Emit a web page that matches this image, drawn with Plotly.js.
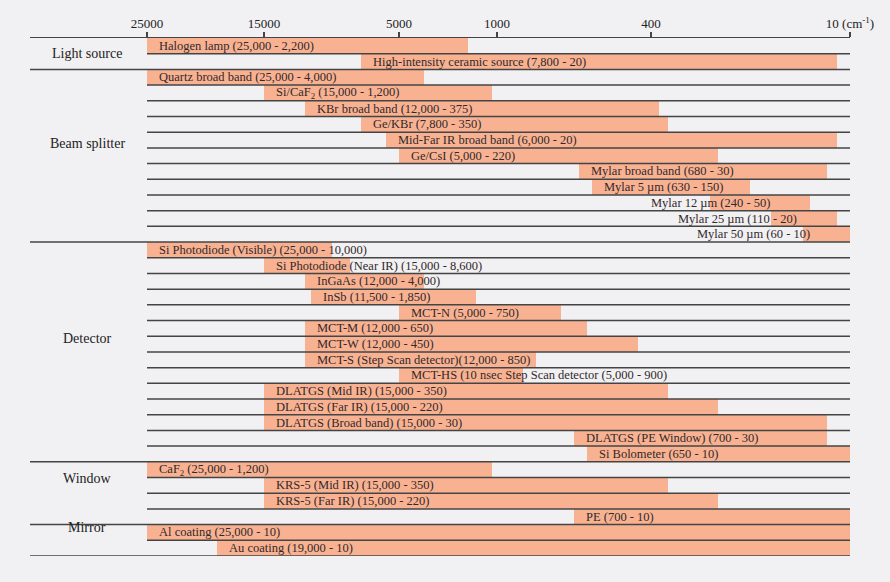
<!DOCTYPE html>
<html>
<head>
<meta charset="utf-8">
<script src="https://cdn.plot.ly/plotly-3.0.1.min.js"></script>
<style>
  html, body { margin: 0; padding: 0; background: #f1f1f3; }
  #chart { width: 890px; height: 582px; }
</style>
</head>
<body>
<div id="chart"></div>
<script>
// ---------------- DATA ----------------
const GROUPS = ['Light source', 'Beam splitter', 'Detector', 'Window', 'Mirror'];
const GROUP_SIZES = [2, 11, 14, 4, 2];

const ITEMS = [
  'Halogen lamp (25,000 - 2,200)',
  'High-intensity ceramic source (7,800 - 20)',
  'Quartz broad band (25,000 - 4,000)',
  'Si/CaF<sub>2</sub> (15,000 - 1,200)',
  'KBr broad band (12,000 - 375)',
  'Ge/KBr (7,800 - 350)',
  'Mid-Far IR broad band (6,000 - 20)',
  'Ge/CsI (5,000 - 220)',
  'Mylar broad band (680 - 30)',
  'Mylar 5 µm (630 - 150)',
  'Mylar 12 µm (240 - 50)',
  'Mylar 25 µm (110 - 20)',
  'Mylar 50 µm (60 - 10)',
  'Si Photodiode (Visible) (25,000 - 10,000)',
  'Si Photodiode (Near IR) (15,000 - 8,600)',
  'InGaAs (12,000 - 4,000)',
  'InSb (11,500 - 1,850)',
  'MCT-N (5,000 - 750)',
  'MCT-M (12,000 - 650)',
  'MCT-W (12,000 - 450)',
  'MCT-S (Step Scan detector)(12,000 - 850)',
  'MCT-HS (10 nsec Step Scan detector (5,000 - 900)',
  'DLATGS (Mid IR) (15,000 - 350)',
  'DLATGS (Far IR) (15,000 - 220)',
  'DLATGS (Broad band) (15,000 - 30)',
  'DLATGS (PE Window) (700 - 30)',
  'Si Bolometer (650 - 10)',
  'CaF<sub>2</sub> (25,000 - 1,200)',
  'KRS-5 (Mid IR) (15,000 - 350)',
  'KRS-5 (Far IR) (15,000 - 220)',
  'PE (700 - 10)',
  'Al coating (25,000 - 10)',
  'Au coating (19,000 - 10)'
];

const RANGE_HIGH = [25000, 7800, 25000, 15000, 12000, 7800, 6000, 5000, 680, 630, 240, 110, 60,
  25000, 15000, 12000, 11500, 5000, 12000, 12000, 12000, 5000, 15000, 15000, 15000, 700, 650,
  25000, 15000, 15000, 700, 25000, 19000];
const RANGE_LOW = [2200, 20, 4000, 1200, 375, 350, 20, 220, 30, 150, 50, 20, 10,
  10000, 8600, 4000, 1850, 750, 650, 450, 850, 900, 350, 220, 30, 30, 10,
  1200, 350, 220, 10, 10, 10];

const TICK_VALUES = [25000, 15000, 5000, 1000, 400, 10];
const TICK_TEXT = ['25000', '15000', '5000', '1000', '400', '10 (cm<sup>-1</sup>)'];

// ---------------- AXIS (broken wavenumber scale, as printed) ----------------
// axis units: position of each printed tick along the axis
const TICK_POS = [0, 117, 252, 350, 504, 703];
const SEG_EXP = [1, 1, 1, 1, 0.6];   // interpolation power within each tick segment

function wn2pos(v) {
  for (let i = 0; i < TICK_VALUES.length - 1; i++) {
    const a = TICK_VALUES[i], b = TICK_VALUES[i + 1];
    if (v <= a && v >= b) {
      const e = SEG_EXP[i];
      const f = (Math.pow(a, e) - Math.pow(v, e)) / (Math.pow(a, e) - Math.pow(b, e));
      return TICK_POS[i] + f * (TICK_POS[i + 1] - TICK_POS[i]);
    }
  }
  return v > TICK_VALUES[0] ? TICK_POS[0] : TICK_POS[TICK_POS.length - 1];
}

// ---------------- STYLE ----------------
const BG = '#f1f1f3';
const BAR = '#f8b292';
const LINE = '#444444';
const TXT = '#33282a';
const SERIF = "'Liberation Serif', 'Times New Roman', serif";
const X_MIN = -117, X_MAX = 703;
const N = ITEMS.length;
const GROUP_LABEL_SHIFT = [0, 12, 13, 15, 13];
const LABEL_SIZE = 12.5;

const starts = RANGE_HIGH.map(wn2pos);
const ends = RANGE_LOW.map(wn2pos);
const rows = ITEMS.map((_, i) => i);

const bars = {
  type: 'bar',
  orientation: 'h',
  y: rows,
  base: starts,
  x: ends.map((e, i) => e - starts[i]),
  width: 1,
  marker: { color: BAR, line: { width: 0 } },
  hoverinfo: 'skip',
  showlegend: false
};

// text measurement for label placement
const cv = document.createElement('canvas').getContext('2d');
cv.font = LABEL_SIZE + "px 'Liberation Serif'";
function textW(s) { return cv.measureText(s.replace(/<[^>]+>/g, '')).width; }

const annotations = [];
ITEMS.forEach((t, i) => {
  const w = textW(t);
  const fitsLeft = starts[i] + 10 + w <= 673;
  annotations.push({
    xref: 'x', yref: 'y',
    x: fitsLeft ? starts[i] : ends[i],
    y: i,
    xanchor: fitsLeft ? 'left' : 'right',
    xshift: fitsLeft ? 10 : -38,
    yanchor: 'middle',
    text: t,
    showarrow: false,
    font: { family: SERIF, size: LABEL_SIZE, color: TXT }
  });
});

// group labels and separator lines
const shapes = [];
let r0 = 0;
GROUPS.forEach((g, gi) => {
  const n = GROUP_SIZES[gi];
  const r1 = r0 + n - 1;
  annotations.push({
    xref: 'x', yref: 'y',
    x: -60, y: (r0 + r1) / 2,
    yshift: GROUP_LABEL_SHIFT[gi],
    text: g, showarrow: false,
    xanchor: 'center', yanchor: 'middle',
    font: { family: SERIF, size: 14, color: '#222' }
  });
  // row separators inside group
  for (let r = r0; r < r1; r++) {
    shapes.push({ type: 'line', xref: 'x', yref: 'y', x0: 0, x1: X_MAX + 2, y0: r + 0.5, y1: r + 0.5,
      line: { color: LINE, width: 1.5 }, layer: 'above' });
  }
  // group bottom line (full width)
  shapes.push({ type: 'line', xref: 'x', yref: 'y', x0: X_MIN, x1: X_MAX, y0: r1 + 0.5, y1: r1 + 0.5,
    line: { color: LINE, width: 1.5 }, layer: 'above' });
  r0 = r1 + 1;
});

const layout = {
  width: 890, height: 582,
  margin: { l: 30, r: 40, t: 38, b: 26 },
  paper_bgcolor: BG, plot_bgcolor: BG,
  xaxis: {
    side: 'top',
    range: [X_MIN, X_MAX],
    tickvals: TICK_VALUES.map(wn2pos),
    ticktext: TICK_TEXT,
    ticks: 'outside', ticklen: 5, tickwidth: 1.3, tickcolor: LINE,
    ticklabelstandoff: -2,
    showline: true, linecolor: LINE, linewidth: 1.5,
    showgrid: false, zeroline: false,
    tickfont: { family: SERIF, size: 13, color: '#222' },
    fixedrange: true
  },
  yaxis: {
    range: [N - 0.5, -0.5],
    showticklabels: false, showgrid: false, zeroline: false, showline: false, ticks: '',
    fixedrange: true
  },
  bargap: 0,
  shapes: shapes,
  annotations: annotations,
  showlegend: false
};

Plotly.newPlot('chart', [bars], layout, { displayModeBar: false, staticPlot: true });
</script>
</body>
</html>
